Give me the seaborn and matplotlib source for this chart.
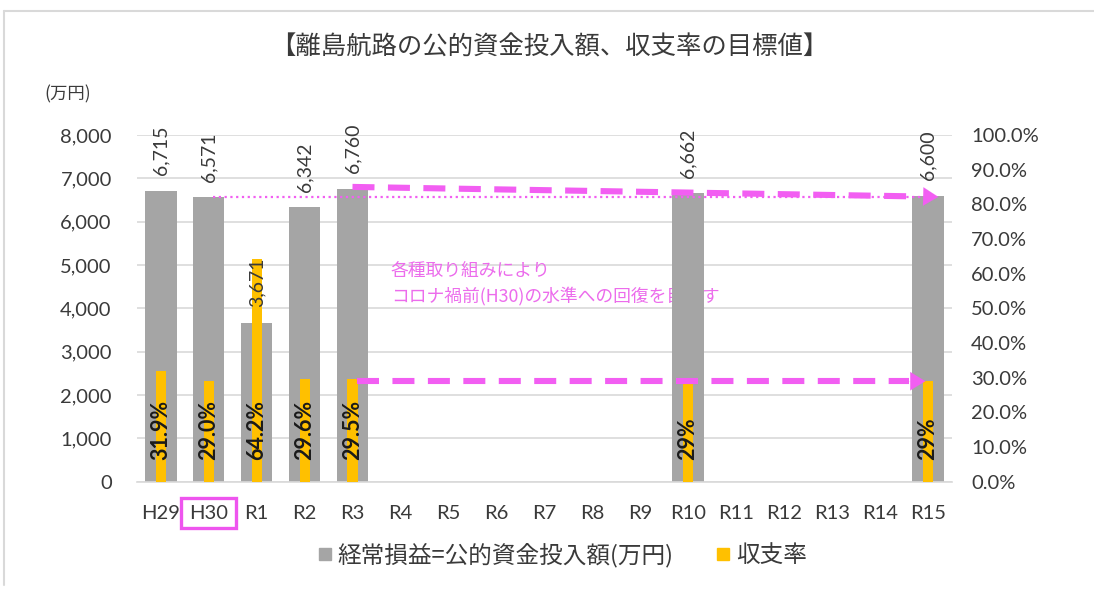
import numpy as np
import pandas as pd
import matplotlib
matplotlib.use("Agg")
import matplotlib.pyplot as plt
import matplotlib.transforms as mtransforms
from matplotlib.lines import Line2D
from matplotlib.patches import Rectangle
import seaborn as sns

# ---------------- data ----------------
categories = ["H29", "H30", "R1", "R2", "R3", "R4", "R5", "R6", "R7", "R8",
              "R9", "R10", "R11", "R12", "R13", "R14", "R15"]
nan = np.nan
subsidy = [6715, 6571, 3671, 6342, 6760, nan, nan, nan, nan, nan,
           nan, 6662, nan, nan, nan, nan, 6600]          # 万円
ratio = [31.9, 29.0, 64.2, 29.6, 29.5, nan, nan, nan, nan, nan,
         nan, 29.0, nan, nan, nan, nan, 29.0]             # %
ratio_labels = ["31.9%", "29.0%", "64.2%", "29.6%", "29.5%", "", "", "", "", "",
                "", "29%", "", "", "", "", "29%"]
left_ticks = [0, 1000, 2000, 3000, 4000, 5000, 6000, 7000, 8000]
right_ticks = [0, 10, 20, 30, 40, 50, 60, 70, 80, 90, 100]

title = "【離島航路の公的資金投入額、収支率の目標値】"
unit_label = "(万円)"
series_names = ["経常損益=公的資金投入額(万円)", "収支率"]
note_text = "各種取り組みにより\nコロナ禍前(H30)の水準への回復を目指す"

# ---------------- style ----------------
sns.set_theme(style="white")
plt.rcParams["font.family"] = ["Lato", "Noto Sans CJK JP", "DejaVu Sans"]
CJK = ["Noto Sans CJK JP", "DejaVu Sans"]

GRAY = "#a5a5a5"
ORANGE = "#ffc000"
MAGENTA = "#f25ef2"
TEXT = "#3a3a3a"
GRID = "#d9d9d9"

df = pd.DataFrame({"cat": categories, "subsidy": subsidy, "ratio": ratio})

fig = plt.figure(figsize=(10.94, 5.89), dpi=100)
ax = fig.add_axes([0.125, 0.182, 0.745, 0.589])

sns.barplot(data=df, x="cat", y="subsidy", order=categories, color=GRAY,
            saturation=1, width=0.66, ax=ax, zorder=2, linewidth=0, edgecolor="none")
ax.set_xlim(-0.5, len(categories) - 0.5)
ax.set_ylim(0, 8000)
ax.set_yticks(left_ticks)
ax.set_yticklabels([f"{v:,}" for v in left_ticks])
ax.set_xlabel("")
ax.set_ylabel("")
ax.yaxis.grid(True, color=GRID, lw=1.2, zorder=0)
ax.set_axisbelow(True)
for s in ["top", "right", "left"]:
    ax.spines[s].set_visible(False)
ax.spines["bottom"].set_color(GRID)
ax.spines["bottom"].set_linewidth(1.2)
ax.tick_params(axis="y", length=0, pad=18, labelsize=14.5, labelcolor=TEXT)
ax.tick_params(axis="x", length=0, pad=17, labelsize=14.5, labelcolor=TEXT)

# annotation text (behind bars)
ax.text(4.8, 4560, note_text, color="#ec6cec", fontsize=12.8, ha="left", va="center",
        linespacing=1.45, zorder=1, family=CJK)

# top arrow (subsidy target) and H30 dotted reference
ax.plot([1.1, 16.1], [subsidy[1], subsidy[1]], color=MAGENTA, lw=1.6,
        linestyle=(0, (1, 1.6)), zorder=5)
ax.plot([4, 15.8], [subsidy[4] + 40, subsidy[16] - 20], color=MAGENTA, lw=4.4,
        linestyle=(0, (3.6, 2.2)), dash_capstyle="butt", zorder=6)
ax.annotate("", xy=(16.22, subsidy[16] - 30), xytext=(15.7, subsidy[16] - 15),
            arrowprops=dict(arrowstyle="-|>,head_length=0.9,head_width=0.55",
                            color=MAGENTA, lw=0.1, shrinkA=0, shrinkB=0), zorder=7)

# ---------------- secondary axis ----------------
ax2 = ax.twinx()
sns.barplot(data=df, x="cat", y="ratio", order=categories, color=ORANGE,
            saturation=1, width=0.21, ax=ax2, zorder=3, linewidth=0, edgecolor="none")
ax2.set_xlim(-0.5, len(categories) - 0.5)
ax2.set_ylim(0, 100)
ax2.set_yticks(right_ticks)
ax2.set_yticklabels([f"{v:.1f}%" for v in right_ticks])
ax2.set_xlabel("")
ax2.set_ylabel("")
ax2.grid(False)
for s in ["top", "right", "left", "bottom"]:
    ax2.spines[s].set_visible(False)
ax2.tick_params(axis="y", length=0, pad=14, labelsize=14.5, labelcolor=TEXT)

# value labels above gray bars (drawn on top axis so they sit above orange bars)
for i, v in enumerate(subsidy):
    if not np.isnan(v):
        ax2.annotate(f"{v:,.0f}", xy=(i, v), xycoords=ax.transData, xytext=(0, 11),
                     textcoords="offset points", rotation=90, ha="center", va="bottom",
                     fontsize=14, color=TEXT, zorder=8)

for i, lab in enumerate(ratio_labels):
    if lab:
        ax2.annotate(lab, xy=(i, 0), xytext=(0, 16), textcoords="offset points",
                     rotation=90, ha="center", va="bottom", fontsize=15.5,
                     color="#1a1a1a", fontweight="bold", zorder=8)

# bottom arrow (ratio target)
ax2.plot([4.1, 15.6], [ratio[16], ratio[16]], color=MAGENTA, lw=4.4,
         linestyle=(0, (3.6, 2.2)), dash_capstyle="butt", zorder=6)
ax2.annotate("", xy=(15.95, ratio[16]), xytext=(15.5, ratio[16]),
             arrowprops=dict(arrowstyle="-|>,head_length=0.9,head_width=0.55",
                             color=MAGENTA, lw=0.1, shrinkA=0, shrinkB=0), zorder=7)

# highlight box around H30 tick label
trans = mtransforms.blended_transform_factory(ax.transData, ax.transAxes)
box = Rectangle((1 - 0.58, -0.134), 1.16, 0.087, transform=trans, fill=False,
                edgecolor="#ee55ee", lw=2.4, clip_on=False, zorder=10)
ax.add_patch(box)

# title, unit, legend
fig.text(0.502, 0.920, title, ha="center", va="center", fontsize=18.3, color=TEXT,
         family=CJK)
fig.text(0.041, 0.839, unit_label, ha="left", va="center", fontsize=12.5, color=TEXT,
         family=CJK)

handles = [Line2D([], [], marker="s", linestyle="", color=GRAY, markersize=9),
           Line2D([], [], marker="s", linestyle="", color=ORANGE, markersize=9)]
fig.legend(handles, series_names, loc="center", bbox_to_anchor=(0.512, 0.058), ncol=2,
           frameon=False, handletextpad=0.05, columnspacing=1.6, handlelength=1.0,
           labelcolor=TEXT, prop={"family": CJK, "size": 17})

# outer chart border
fig.add_artist(Line2D([0.004, 0.004], [0.006, 0.981], color=GRID, lw=1.5,
                      transform=fig.transFigure))
fig.add_artist(Line2D([0.004, 1.0], [0.981, 0.981], color=GRID, lw=1.5,
                      transform=fig.transFigure))

fig.savefig("out.png", dpi=100)
